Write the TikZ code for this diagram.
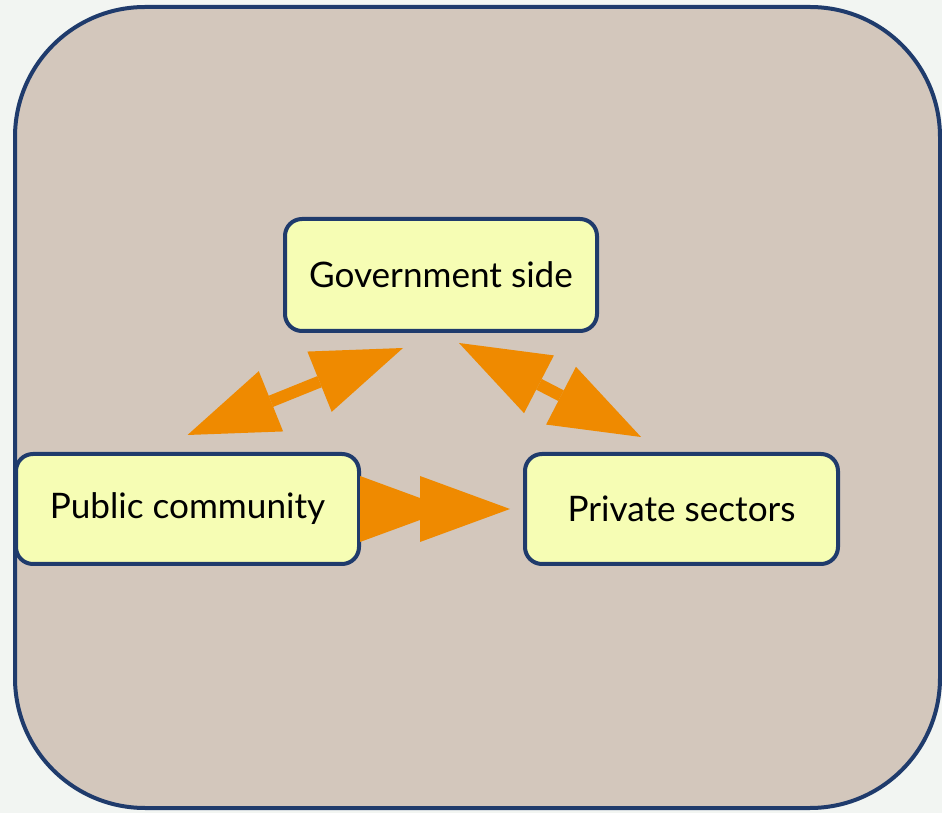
\documentclass[tikz,border=0pt]{standalone}
\usepackage{fontspec}
\setmainfont{Lato}
\usetikzlibrary{arrows.meta}
\definecolor{paper}{HTML}{F2F5F2}
\definecolor{panel}{HTML}{D3C7BC}
\definecolor{navy}{HTML}{1F3B6C}
\definecolor{lemon}{HTML}{F6FDB4}
\definecolor{amber}{HTML}{EF8A00}
\begin{document}
\begin{tikzpicture}[
        box/.style={draw=navy, line width=0.08cm, fill=lemon, rounded corners=0.34cm,
            minimum height=2.2cm, font=\fontsize{20}{24}\selectfont, text=black},
        link/.style={amber, line width=0.24cm,
            {Triangle[length=1.8cm, width=1.3cm, line width=0pt]}-{Triangle[length=1.8cm, width=1.3cm, line width=0pt]}},
        flow/.style={amber, line width=0.24cm,
            -{Triangle[length=1.8cm, width=1.32cm, line width=0pt, sep=-0.6cm]Triangle[length=1.8cm, width=1.32cm, line width=0pt]}}
    ]
        \useasboundingbox (0, 0) rectangle (18.84, -16.26);
        \fill[paper] (0, 0) rectangle (18.84, -16.26);
        \draw[navy, line width=0.08cm, fill=panel, rounded corners=2.6cm] (0.30, -0.14) rectangle (18.80, -16.16);

        % the three parties
        \node[box, minimum width=6.24cm, minimum height=2.24cm] (gov) at (8.82, -5.50) {Government side};
        \node[box, minimum width=6.86cm] (pub) at (3.75, -10.18) {Public community};
        \node[box, minimum width=6.26cm] (priv) at (13.63, -10.18) {Private sectors};

        % links between them
        \draw[link] ([yshift=0.34cm]pub.north) -- ([xshift=-0.76cm, yshift=-0.30cm]gov.south);
        \draw[link] ([xshift=0.36cm, yshift=-0.20cm]gov.south) -- ([xshift=-0.81cm, yshift=0.30cm]priv.north);
        \draw[flow, shorten <=0.06cm, shorten >=0.26cm] (pub.east) -- (priv.west);
    \end{tikzpicture}
\end{document}
